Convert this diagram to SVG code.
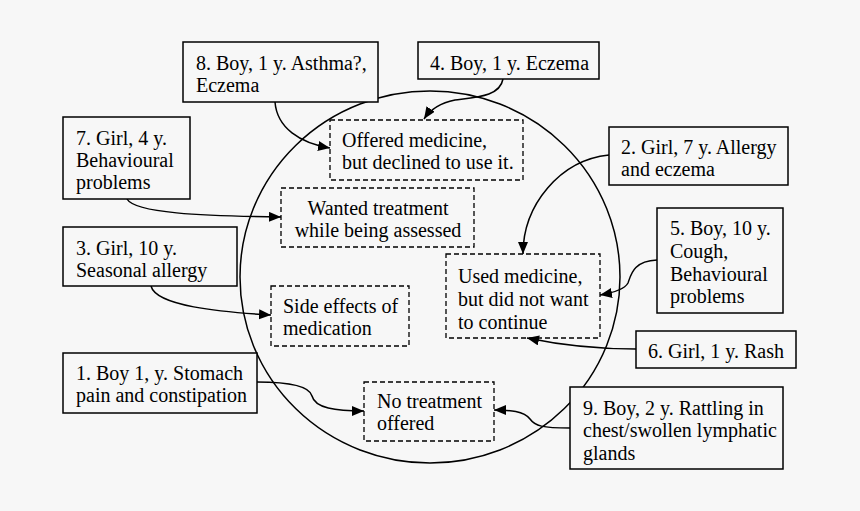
<svg xmlns="http://www.w3.org/2000/svg" width="860" height="511" viewBox="0 0 860 511">
<defs>
<style>
text{font-family:"Liberation Serif","Times New Roman",serif;font-size:20px;fill:#000}
.box{fill:#f7f7f7;stroke:#000;stroke-width:1.5}
.dbox{fill:none;stroke:#000;stroke-width:1.3;stroke-dasharray:5,3}
.c{fill:none;stroke:#000;stroke-width:1.5;marker-end:url(#ah)}
</style>
<marker id="ah" markerUnits="userSpaceOnUse" markerWidth="13" markerHeight="11" refX="12" refY="5" orient="auto">
<path d="M0,0 L12,5 L0,10 z" fill="#000"/>
</marker>
</defs>
<rect width="860" height="511" fill="#f7f7f7"/>
<ellipse cx="430" cy="277" rx="190" ry="186" fill="none" stroke="#000" stroke-width="1.5"/>

<g id="connectors">
<path class="c" d="M275,102 C277,128 300,143 330,148"/>
<path class="c" d="M503,79 C500,96 478,97 455,100 C440,103 430,110 424,119"/>
<path class="c" d="M127,199 C135,213 200,216 281,217"/>
<path class="c" d="M151,286 C156,306 220,312 271,315"/>
<path class="c" d="M257,382 C295,382 310,388 312,396 C315,408 335,411 364,411"/>
<path class="c" d="M609,155 C560,160 523,205 523,254"/>
<path class="c" d="M657,260 C633,261 631,275 628,283 C624,290 612,293 600,295"/>
<path class="c" d="M636,349 C600,349 565,346 527,338"/>
<path class="c" d="M570,428 C542,428 535,426 530,419 C524,411 510,410 494,410"/>
</g>

<g id="n8"><rect class="box" x="183" y="42" width="195" height="60"/>
<text x="196" y="70">8. Boy, 1 y. Asthma?,</text><text x="196" y="92">Eczema</text></g>
<g id="n4"><rect class="box" x="418" y="42" width="181" height="37"/>
<text x="430" y="70">4. Boy, 1 y. Eczema</text></g>
<g id="n7"><rect class="box" x="63" y="117" width="127" height="82"/>
<text x="76" y="145">7. Girl, 4 y.</text><text x="76" y="167">Behavioural</text><text x="76" y="189">problems</text></g>
<g id="n3"><rect class="box" x="63" y="227" width="174" height="59"/>
<text x="76" y="255">3. Girl, 10 y.</text><text x="76" y="277">Seasonal allergy</text></g>
<g id="n1"><rect class="box" x="63" y="353" width="194" height="60"/>
<text x="76" y="380">1. Boy 1, y. Stomach</text><text x="76" y="402">pain and constipation</text></g>
<g id="n2"><rect class="box" x="609" y="127" width="179" height="58"/>
<text x="621" y="154">2. Girl, 7 y. Allergy</text><text x="621" y="176">and eczema</text></g>
<g id="n5"><rect class="box" x="657" y="208" width="126" height="105"/>
<text x="670" y="235">5. Boy, 10 y.</text><text x="670" y="258">Cough,</text><text x="670" y="281">Behavioural</text><text x="670" y="303">problems</text></g>
<g id="n6"><rect class="box" x="636" y="331" width="160" height="37"/>
<text x="648" y="358">6. Girl, 1 y. Rash</text></g>
<g id="n9"><rect class="box" x="570" y="387" width="213" height="82"/>
<text x="583" y="415">9. Boy, 2 y. Rattling in</text><text x="583" y="437">chest/swollen lymphatic</text><text x="583" y="460">glands</text></g>

<g id="offered"><rect class="dbox" x="330" y="120" width="193" height="60"/>
<text x="342" y="147">Offered medicine,</text><text x="342" y="169">but declined to use it.</text></g>
<g id="wanted"><rect class="dbox" x="281" y="188" width="193" height="59"/>
<text x="378" y="215" text-anchor="middle">Wanted treatment</text><text x="378" y="237" text-anchor="middle">while being assessed</text></g>
<g id="side"><rect class="dbox" x="271" y="286" width="138" height="60"/>
<text x="283" y="313">Side effects of</text><text x="283" y="335">medication</text></g>
<g id="used"><rect class="dbox" x="446" y="254" width="154" height="84"/>
<text x="458" y="283">Used medicine,</text><text x="458" y="306">but did not want</text><text x="458" y="329">to continue</text></g>
<g id="none"><rect class="dbox" x="364" y="382" width="130" height="59"/>
<text x="377" y="408">No treatment</text><text x="377" y="430">offered</text></g>
</svg>
